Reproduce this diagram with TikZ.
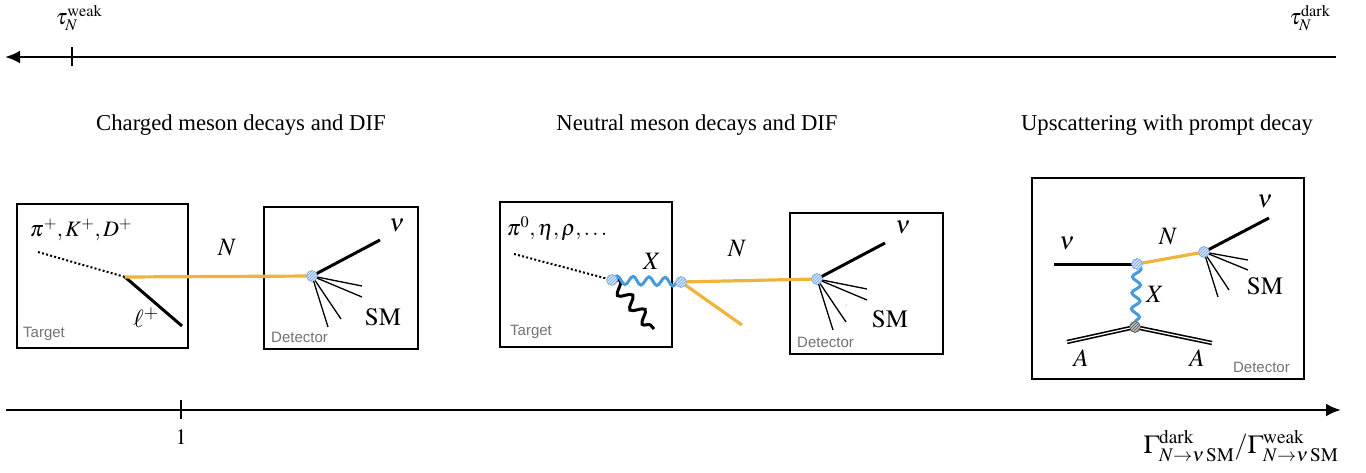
\documentclass[tikz,border=0pt]{standalone}
\usepackage{mathptmx}
\usepackage[no-math]{fontspec}
\setmainfont{Liberation Serif}
\newfontfamily\labfont{Liberation Sans}
\usetikzlibrary{arrows.meta,decorations.pathmorphing,patterns}
\definecolor{nor}{RGB}{240,180,60}
\definecolor{xblue}{RGB}{70,155,220}
\definecolor{vtxb}{RGB}{120,170,225}
\definecolor{vtxg}{RGB}{80,80,80}
\tikzset{
  axisline/.style={line width=2.8pt,-{Latex[length=15pt,width=13pt]}},
  tickmark/.style={line width=1.8pt},
  boxfr/.style={draw,line width=1.7pt},
  nline/.style={draw=nor,line width=3.2pt},
  thick line/.style={line width=3pt},
  thin line/.style={line width=1.3pt},
  dotl/.style={line width=2pt,dash pattern=on 2pt off 2.2pt},
  xwave/.style={draw=xblue,line width=3pt,decorate,decoration={snake,segment length=16pt,amplitude=4.2pt}},
  bwave/.style={line width=3pt,decorate,decoration={snake,segment length=19pt,amplitude=6pt}},
  dline/.style={double,double distance=1.2pt,line width=1.6pt},
  lab/.style={font=\fontsize{22}{24}\selectfont,inner sep=0pt},
  blab/.style={font=\fontsize{25}{28}\selectfont,inner sep=0pt},
  head/.style={font=\fontsize{22.7}{26}\selectfont,inner sep=0pt},
  gtag/.style={font=\labfont\fontsize{15}{17}\selectfont,text=black!55,inner sep=0pt},
}
\newcommand{\vtx}[2][vtxb]{%
  \fill[#1!35] (#2) circle (5.5pt);
  \fill[pattern=north east lines,pattern color=#1] (#2) circle (5.5pt);
  \draw[#1,line width=0.6pt] (#2) circle (5.5pt);}
\begin{document}
\begin{tikzpicture}[x=1pt,y=-1pt]
\useasboundingbox (0,0) rectangle (1366,472);
% top axis
\coordinate (ta1) at (1336,57);
\coordinate (ta2) at (5,57);
\draw[axisline] (ta1) -- (ta2);
\coordinate (tt1) at (72,47); \coordinate (tt2) at (72,66);
\draw[tickmark] (tt1) -- (tt2);
\node[lab] (tw) at (79,18) {$\tau_N^{\mathrm{weak}}$};
\node[lab] (td) at (1310,18) {$\tau_N^{\mathrm{dark}}$};
% bottom axis
\coordinate (ba1) at (6,410);
\coordinate (ba2) at (1341,410);
\draw[axisline] (ba1) -- (ba2);
\coordinate (bt1) at (181,400); \coordinate (bt2) at (181,419);
\draw[tickmark] (bt1) -- (bt2);
\node[lab] (one) at (181,437) {$1$};
\node[font=\fontsize{26}{28}\selectfont,inner sep=0pt] (gam) at (1241,446) {$\Gamma^{\mathrm{dark}}_{N\to\nu\,\mathrm{SM}}/\Gamma^{\mathrm{weak}}_{N\to\nu\,\mathrm{SM}}$};
% headings
\node[head] (h1) at (241,125) {Charged meson decays and DIF};
\node[head] (h2) at (697,125) {Neutral meson decays and DIF};
\node[head] (h3) at (1167,125) {Upscattering with prompt decay};

% ===== panel 1 =====
\node[boxfr,minimum width=171pt,minimum height=144pt,anchor=north west] (t1) at (16,203) {};
\node[boxfr,minimum width=154pt,minimum height=142pt,anchor=north west] (d1) at (263,206) {};
\node[gtag,anchor=west] (t1l) at (23,334) {Target};
\node[gtag,anchor=west] (d1l) at (271,337) {Detector};
\node[lab] (m1) at (81,230) {$\pi^+, K^+, D^+$};
\coordinate (p1a) at (38,252);
\coordinate (p1v) at (125,277);
\coordinate (p1l) at (182,326);
\coordinate (p1d) at (312,276);
\draw[dotl] (p1a) -- (p1v);
\draw[thick line] (p1v) -- (p1l);
\draw[nline] (p1v) -- (p1d);
\node[blab] (l1) at (146,318) {$\ell^+$};
\node[blab] (n1) at (227,248) {$N$};
\coordinate (p1nu) at (380,240);
\draw[thick line] (p1d) -- (p1nu);
\coordinate (s11) at (362,286); \coordinate (s12) at (362,297);
\coordinate (s13) at (341,319); \coordinate (s14) at (328,327);
\foreach \s in {s11,s12,s13,s14} \draw[thin line] (p1d) -- (\s);
\coordinate (e1a) at (340,304); \coordinate (e1b) at (342,301);
\draw[black!30,line width=0.6pt,dotted] (e1a) -- (e1b);
\vtx{p1d}
\node[blab] (nu1) at (397,225) {$\nu$};
\node[blab] (sm1) at (383,317) {$\mathrm{SM}$};

% ===== panel 2 =====
\node[boxfr,minimum width=172pt,minimum height=145pt,anchor=north west] (t2) at (499,201) {};
\node[boxfr,minimum width=153pt,minimum height=141pt,anchor=north west] (d2) at (789,212) {};
\node[gtag,anchor=west] (t2l) at (510,332) {Target};
\node[gtag,anchor=west] (d2l) at (797,342) {Detector};
\node[lab] (m2) at (557,229) {$\pi^0, \eta, \rho, \ldots$};
\coordinate (p2a) at (514,254);
\coordinate (p2v) at (612,280);
\coordinate (p2x) at (681,282);
\coordinate (p2w) at (654,329);
\coordinate (p2o) at (742,325);
\coordinate (p2d) at (817,279);
\draw[dotl] (p2a) -- (p2v);
\draw[bwave] (p2v) -- (p2w);
\draw[xwave] (p2v) -- (p2x);
\draw[nline] (p2x) -- (p2d);
\draw[nline] (p2x) -- (p2o);
\node[blab] (x2) at (652,261) {$X$};
\node[blab] (n2) at (737,249) {$N$};
\coordinate (p2nu) at (885,243);
\draw[thick line] (p2d) -- (p2nu);
\coordinate (s21) at (867,289); \coordinate (s22) at (867,300);
\coordinate (s23) at (846,322); \coordinate (s24) at (833,330);
\foreach \s in {s21,s22,s23,s24} \draw[thin line] (p2d) -- (\s);
\coordinate (e2a) at (845,307); \coordinate (e2b) at (847,304);
\draw[black!30,line width=0.6pt,dotted] (e2a) -- (e2b);
\vtx{p2v}
\vtx{p2x}
\vtx{p2d}
\node[blab] (nu2) at (903,227) {$\nu$};
\node[blab] (sm2) at (890,319) {$\mathrm{SM}$};

% ===== panel 3 =====
\node[boxfr,minimum width=272pt,minimum height=201pt,anchor=north west] (d3) at (1031,177) {};
\node[gtag,anchor=east] (d3l) at (1290,367) {Detector};
\coordinate (p3in) at (1054,264);
\coordinate (p3v) at (1137,264);
\coordinate (p3d) at (1204,252);
\coordinate (p3nu) at (1269,218);
\coordinate (p3a) at (1135,327);
\coordinate (p3al) at (1067,342);
\coordinate (p3ar) at (1212,343);
\draw[thick line] (p3in) -- (p3v);
\draw[nline] (p3v) -- (p3d);
\draw[thick line] (p3d) -- (p3nu);
\coordinate (s31) at (1248,260); \coordinate (s32) at (1248,270);
\coordinate (s33) at (1229,290); \coordinate (s34) at (1218,297);
\foreach \s in {s31,s32,s33,s34} \draw[thin line] (p3d) -- (\s);
\coordinate (e3a) at (1228,276); \coordinate (e3b) at (1230,274);
\draw[black!30,line width=0.6pt,dotted] (e3a) -- (e3b);
\draw[xwave] (p3v) -- (p3a);
\draw[dline] (p3al) -- (p3a) -- (p3ar);
\vtx{p3v}
\vtx{p3d}
\vtx[vtxg]{p3a}
\node[blab] (nu3a) at (1067,243) {$\nu$};
\node[blab] (n3) at (1168,237) {$N$};
\node[blab] (nu3b) at (1265,201) {$\nu$};
\node[blab] (x3) at (1155,294) {$X$};
\node[blab] (sm3) at (1265,286) {$\mathrm{SM}$};
\node[blab] (a3l) at (1081,358) {$A$};
\node[blab] (a3r) at (1197,358) {$A$};
\end{tikzpicture}
\end{document}
